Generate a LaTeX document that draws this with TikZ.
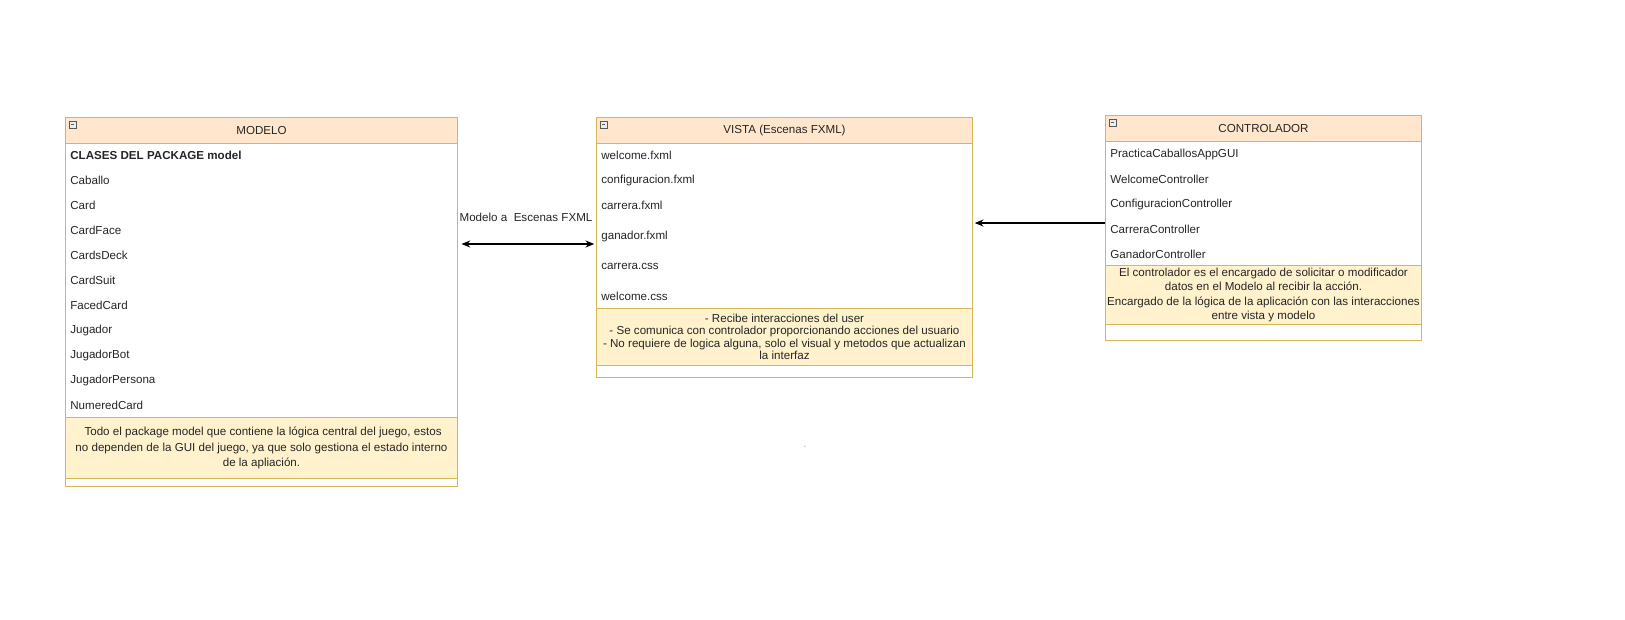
\documentclass[tikz,border=0pt]{standalone}
\usepackage{fontspec}
\setmainfont{Liberation Sans}
\usetikzlibrary{arrows.meta}

\definecolor{headfill}{HTML}{FFE6CC}
\definecolor{notefill}{HTML}{FFF2CC}
\definecolor{boxline}{HTML}{D6B656}

\begin{document}
\begin{tikzpicture}[x=0.02cm, y=-0.02cm,
    every node/.style={font=\fontsize{6.6}{8}\selectfont, text=black!85},
    classbox/.style={draw=boxline, line width=0.6pt, anchor=north west, inner sep=0pt, fill=white},
    header/.style={classbox, fill=headfill},
    note/.style={classbox, fill=notefill, align=center},
    item/.style={anchor=west, inner sep=0pt},
    toggle/.style={draw=gray!70!black, fill=gray!15, minimum size=0.13cm, inner sep=0pt,
        anchor=north west, line width=0.3pt,
        path picture={\draw[line width=0.4pt] ([xshift=1pt]path picture bounding box.west)
            -- ([xshift=-1pt]path picture bounding box.east);}},
    link/.style={draw, line width=0.6pt, -{Stealth[length=5pt,width=4pt]}}]

\useasboundingbox (0,0) rectangle (1625,619);

% MODELO
\node[classbox, minimum width=7.84cm, minimum height=7.38cm] (modelo) at (65,117) {};
\node[header, minimum width=7.84cm, minimum height=0.52cm] (modelo-head) at (65,117) {MODELO};
\node[toggle] (modelo-toggle) at (69,121) {};
\node[item, font=\fontsize{6.6}{8}\selectfont\bfseries] (modelo-0) at (70,155) {CLASES DEL PACKAGE model};
\foreach \name [count=\i] in {Caballo, Card, CardFace, CardsDeck, CardSuit, FacedCard,
        Jugador, JugadorBot, JugadorPersona, NumeredCard}
    \node[item] (modelo-\i) at (70,{155+25*\i}) {\name};
\node[note, minimum width=7.84cm, minimum height=1.22cm,
    font=\fontsize{6.6}{9}\selectfont] (modelo-note) at (65,417)
    {\ Todo el package model que contiene la lógica central del juego, estos\\
     no dependen de la GUI del juego, ya que solo gestiona el estado interno\\
     de la apliación.};

% VISTA
\node[classbox, minimum width=7.52cm, minimum height=5.2cm] (vista) at (596,117) {};
\node[header, minimum width=7.52cm, minimum height=0.52cm] (vista-head) at (596,117) {VISTA (Escenas FXML)};
\node[toggle] (vista-toggle) at (600,121) {};
\foreach \y/\name [count=\i] in {155/welcome.fxml, 180/configuracion.fxml, 205/carrera.fxml,
        236/ganador.fxml, 266/carrera.css, 296/welcome.css}
    \node[item] (vista-\i) at (601,\y) {\name};
\node[note, minimum width=7.52cm, minimum height=1.14cm,
    font=\fontsize{6.6}{7.1}\selectfont] (vista-note) at (596,308)
    {- Recibe interacciones del user\\
     - Se comunica con controlador proporcionando acciones del usuario\\
     - No requiere de logica alguna, solo el visual y metodos que actualizan\\
     la interfaz};

% CONTROLADOR
\node[classbox, minimum width=6.32cm, minimum height=4.5cm] (controlador) at (1105,115) {};
\node[header, minimum width=6.32cm, minimum height=0.52cm] (controlador-head) at (1105,115) {CONTROLADOR};
\node[toggle] (controlador-toggle) at (1109,119) {};
\foreach \name [count=\i] in {PracticaCaballosAppGUI, WelcomeController,
        ConfiguracionController, CarreraController, GanadorController}
    \node[item] (controlador-\i) at (1110,{129+25*\i}) {\name};
\node[note, minimum width=6.32cm, minimum height=1.18cm,
    font=\fontsize{6.6}{8.1}\selectfont] (controlador-note) at (1105,265)
    {El controlador es el encargado de solicitar o modificador\\
     datos en el Modelo al recibir la acción.\\
     Encargado de la lógica de la aplicación con las interacciones\\
     entre vista y modelo};

% connectors
\coordinate (mv) at (0,244);
\coordinate (cv) at (0,223);
\draw[link, {Stealth[length=5pt,width=4pt]}-{Stealth[length=5pt,width=4pt]}]
    ([xshift=2pt]modelo.east |- mv) -- ([xshift=-1pt]vista.west |- mv);
\node (mv-label) at (526,217) {Modelo a\ \ Escenas FXML};
\draw[link] (controlador.west |- cv) -- ([xshift=1pt]vista.east |- cv);

\node[text=gray!60, inner sep=0pt] (dot) at (805,447) {.};

\end{tikzpicture}
\end{document}
